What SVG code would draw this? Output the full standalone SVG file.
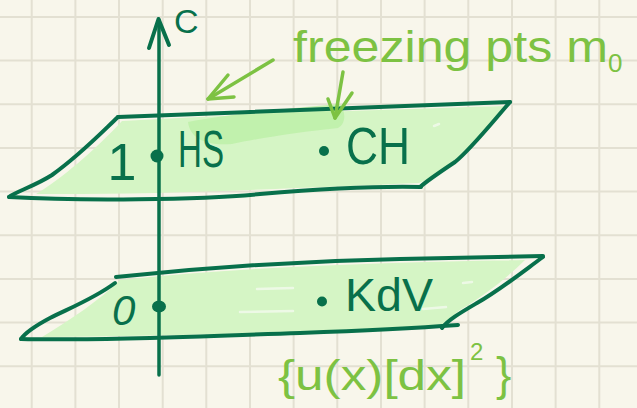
<svg xmlns="http://www.w3.org/2000/svg" width="637" height="408" viewBox="0 0 637 408">
<style>
.grid line{stroke:#e3e0d2;stroke-width:2}
.edge{fill:none;stroke:#08704b;stroke-width:4;stroke-linecap:round;stroke-linejoin:round}
.fill{fill:#d5f5c5}
.dot{fill:#08704b}
.lab{font-family:"Liberation Sans",Arial,sans-serif;fill:#08704b}
.lime{font-family:"Liberation Sans",Arial,sans-serif;fill:#7dc243}
.arr{fill:none;stroke:#7dc243;stroke-width:3.5;stroke-linecap:round;stroke-linejoin:round}
.streak{stroke:#f4fbef;stroke-width:2.5;stroke-linecap:round;opacity:0.8}
</style>
<rect width="637" height="408" fill="#f8f6eb"/>
<g class="grid">
<line x1="31.7" y1="0" x2="31.7" y2="408"/>
<line x1="75.4" y1="0" x2="75.4" y2="408"/>
<line x1="119" y1="0" x2="119" y2="408"/>
<line x1="162.7" y1="0" x2="162.7" y2="408"/>
<line x1="206.3" y1="0" x2="206.3" y2="408"/>
<line x1="250" y1="0" x2="250" y2="408"/>
<line x1="293.6" y1="0" x2="293.6" y2="408"/>
<line x1="337.3" y1="0" x2="337.3" y2="408"/>
<line x1="381" y1="0" x2="381" y2="408"/>
<line x1="424.6" y1="0" x2="424.6" y2="408"/>
<line x1="468.3" y1="0" x2="468.3" y2="408"/>
<line x1="512" y1="0" x2="512" y2="408"/>
<line x1="555.6" y1="0" x2="555.6" y2="408"/>
<line x1="599.3" y1="0" x2="599.3" y2="408"/>
<line x1="0" y1="17" x2="637" y2="17"/>
<line x1="0" y1="60.6" x2="637" y2="60.6"/>
<line x1="0" y1="104.3" x2="637" y2="104.3"/>
<line x1="0" y1="148" x2="637" y2="148"/>
<line x1="0" y1="191.6" x2="637" y2="191.6"/>
<line x1="0" y1="235.2" x2="637" y2="235.2"/>
<line x1="0" y1="278.9" x2="637" y2="278.9"/>
<line x1="0" y1="322.5" x2="637" y2="322.5"/>
<line x1="0" y1="366.2" x2="637" y2="366.2"/>
</g>
<g id="plane-upper">
<path class="fill" d="M122,121 C250,114 400,109 504,106 C485,130 465,152 450,164 C440,172 430,179 419,183 C300,188 150,195 36,194 C60,180 95,150 122,121 Z"/>
<path fill="#bdf0a8" opacity="0.85" d="M188,122 C230,114 290,108 340,104 C346,112 346,124 338,128 C300,132 260,138 232,144 C205,146 190,138 188,122 Z"/>
<path class="edge" d="M118,117 C250,112 400,106 510,102"/>
<path class="edge" d="M510,102 C490,125 470,150 455,162 C440,172 428,180 420,187"/>
<path class="edge" d="M9,197 C80,201 200,200 260,194 C320,189 380,186 421,187"/>
<path class="edge" d="M118,117 C100,134 80,155 52,175 C35,186 15,192 9,197"/>
<line class="streak" x1="434" y1="126" x2="439" y2="124"/>
</g>
<g id="plane-lower">
<path class="fill" d="M120,280 C250,266 400,262 525,260 C505,280 480,298 460,310 C450,318 445,323 440,326 C350,330 200,336 42,337 C70,320 100,300 120,280 Z"/>
<line class="streak" x1="257" y1="289" x2="293" y2="288"/>
<line class="streak" x1="240" y1="312" x2="293" y2="311"/>
<line class="streak" x1="463" y1="283" x2="472" y2="282"/>
<line class="streak" x1="423" y1="309" x2="446" y2="307"/>
<path class="edge" d="M116,277 C200,268 300,261 400,259 L543,256"/>
<path class="edge" d="M115,283 C95,298 70,308 50,318 C35,326 25,333 21,339"/>
<path class="edge" d="M21,339 C100,341 200,336 300,333 C380,330 430,327 458,325"/>
<path class="edge" d="M543,257 C525,270 500,290 477,303 C460,313 448,320 442,328"/>
</g>
<g id="axis-c">
<line x1="159" y1="20" x2="159" y2="375" stroke="#08704b" stroke-width="3.5" stroke-linecap="round"/>
<path class="edge" d="M149,48 L158.5,19 L169,45"/>
<text class="lab" x="174" y="33" font-size="34">C</text>
</g>
<g id="node-HS">
<circle class="dot" cx="157" cy="156" r="6.5"/>
<text class="lab" x="122" y="180" font-size="52" text-anchor="middle">1</text>
<text class="lab" x="178" y="167" font-size="51" textLength="46" lengthAdjust="spacingAndGlyphs">HS</text>
</g>
<g id="node-CH">
<circle class="dot" cx="324" cy="151" r="5"/>
<text class="lab" x="346" y="164" font-size="52" textLength="64" lengthAdjust="spacingAndGlyphs">CH</text>
</g>
<g id="node-0">
<ellipse class="dot" cx="159" cy="306.5" rx="7" ry="6"/>
<text class="lab" x="112" y="325" font-size="42" font-style="italic">0</text>
</g>
<g id="node-KdV">
<circle class="dot" cx="322" cy="301.5" r="5"/>
<text class="lab" x="345" y="311" font-size="46" textLength="88" lengthAdjust="spacingAndGlyphs">KdV</text>
</g>
<g id="label-freezing">
<text class="lime" x="293" y="62" font-size="44"><tspan textLength="315" lengthAdjust="spacingAndGlyphs">freezing pts m</tspan><tspan font-size="26" dy="10">0</tspan></text>
</g>
<g id="label-measure">
<text class="lime" x="278" y="390" font-size="42"><tspan textLength="188" lengthAdjust="spacingAndGlyphs">{u(x)[dx]</tspan><tspan x="470" dy="-30" font-size="24">2</tspan><tspan x="496" dy="30" font-size="46">}</tspan></text>
</g>
<g id="connectors">
<path class="arr" d="M273,60 L208,99"/>
<path class="arr" d="M228,75 L208,99 L234,97"/>
<path class="arr" d="M343,72 L335,118"/>
<path class="arr" d="M328,99 L335,118 L352,93"/>
</g>
</svg>
